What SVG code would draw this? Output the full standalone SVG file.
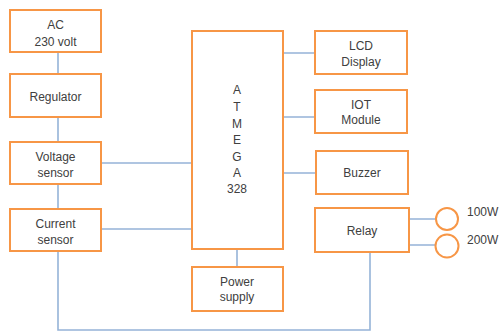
<svg xmlns="http://www.w3.org/2000/svg" width="501" height="334" viewBox="0 0 501 334">
<style>
.box{fill:#fff;stroke:#F79646;stroke-width:2}
.ln{fill:none;stroke:#95B3D7;stroke-width:1.6}
text{font-family:"Liberation Sans","DejaVu Sans",sans-serif;font-size:12px;fill:#404040;text-anchor:middle}
.lbl{text-anchor:start}
</style>
<rect width="501" height="334" fill="#fff"/>
<g id="connectors">
<path class="ln" d="M58 52V74M58 117V142M58 184V209M58 251V330H370V252"/>
<path class="ln" d="M101 163H192M101 229H192"/>
<path class="ln" d="M283 53H315M283 117H315M283 173H316"/>
<path class="ln" d="M237 249V267"/>
<path class="ln" d="M409 219H436M409 245H435"/>
</g>
<g id="ac"><rect class="box" x="10" y="10" width="91" height="42"/><text x="55.5" y="29">AC</text><text x="55.5" y="46">230 volt</text></g>
<g id="regulator"><rect class="box" x="10" y="74" width="91" height="43"/><text x="55.5" y="101">Regulator</text></g>
<g id="voltage"><rect class="box" x="10" y="142" width="91" height="42"/><text x="55.5" y="161">Voltage</text><text x="55.5" y="177">sensor</text></g>
<g id="current"><rect class="box" x="10" y="209" width="91" height="42"/><text x="55.5" y="228">Current</text><text x="55.5" y="244">sensor</text></g>
<g id="atmega"><rect class="box" x="192" y="31" width="91" height="218"/>
<text x="237" y="94">A</text><text x="237" y="111">T</text><text x="237" y="128">M</text><text x="237" y="144">E</text><text x="237" y="161">G</text><text x="237" y="177">A</text><text x="237" y="193">328</text></g>
<g id="power"><rect class="box" x="192" y="267" width="91" height="44"/><text x="237" y="286">Power</text><text x="237" y="301">supply</text></g>
<g id="lcd"><rect class="box" x="315" y="31" width="92" height="43"/><text x="361" y="50">LCD</text><text x="361" y="66">Display</text></g>
<g id="iot"><rect class="box" x="315" y="90" width="92" height="43"/><text x="361" y="109">IOT</text><text x="361" y="124">Module</text></g>
<g id="buzzer"><rect class="box" x="316" y="151" width="92" height="43"/><text x="362" y="177">Buzzer</text></g>
<g id="relay"><rect class="box" x="315" y="208" width="94" height="44"/><text x="362" y="235">Relay</text></g>
<g id="load100"><circle class="box" cx="447" cy="219" r="11"/><text class="lbl" x="467" y="216">100W</text></g>
<g id="load200"><circle class="box" cx="447" cy="246" r="11.5"/><text class="lbl" x="467" y="244">200W</text></g>
</svg>
